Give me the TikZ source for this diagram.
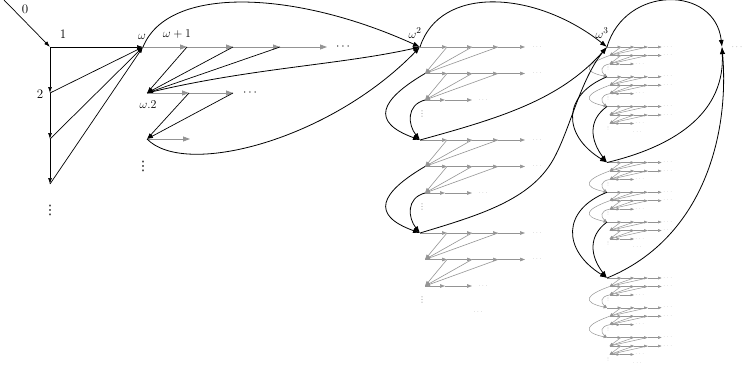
\documentclass[tikz,border=0pt]{standalone}
\usepackage{fontspec}
\usetikzlibrary{arrows.meta}
\newfontfamily\dejavu{DejaVu Sans}
\definecolor{gcol}{gray}{0.58}
\newcommand\gtipl{7pt}
\newcommand\gtipw{5pt}
\newcommand\glinew{0.8pt}
\newcommand\gdotfont{\fontsize{6}{7}\selectfont}
\newcommand\gvdfont{\fontsize{6}{7}\selectfont}
\newcommand\myvdots{{\dejavu ⋮}}
\tikzset{
  blk/.style={draw=black, line width=0.7pt, -{Latex[length=6pt,width=4pt]}},
  blkc/.style={draw=black, line width=0.8pt, -{Latex[length=7pt,width=5pt]}},
  gseg/.style={draw=gcol, line width=\glinew, -{Triangle[length=\gtipl,width=\gtipw]}},
  gdot/.style={text=gcol, font=\gdotfont, inner sep=0pt},
  gvd/.style={text=gcol, font=\gvdfont, inner sep=0pt},
  lbl/.style={font=\fontsize{13}{15}\selectfont, inner sep=0pt},
  vdl/.style={font=\fontsize{13}{15}\selectfont, inner sep=0pt},
  bulge/.style={blkc},
}
\newcommand\blockB[2]{%
  \coordinate (#1-p0) at (0,{#2});
  \coordinate (#1-p1) at (27,{#2});
  \coordinate (#1-p2) at (52,{#2});
  \coordinate (#1-p3) at (78,{#2});
  \coordinate (#1-p4) at (105,{#2});
  \coordinate (#1-q0) at (5,{#2+26.5});
  \coordinate (#1-q1) at (27,{#2+26.5});
  \coordinate (#1-q2) at (52,{#2+26.5});
  \coordinate (#1-q3) at (78,{#2+26.5});
  \coordinate (#1-q4) at (105,{#2+26.5});
  \coordinate (#1-r0) at (5,{#2+53});
  \coordinate (#1-r1) at (25,{#2+53});
  \coordinate (#1-r2) at (52,{#2+53});
  \draw[gseg] (#1-p0) -- (#1-p1);
  \draw[gseg] (#1-p1) -- (#1-p2);
  \draw[gseg] (#1-p2) -- (#1-p3);
  \draw[gseg] (#1-p3) -- (#1-p4);
  \draw[gseg] (#1-q0) -- (#1-q1);
  \draw[gseg] (#1-q1) -- (#1-q2);
  \draw[gseg] (#1-q2) -- (#1-q3);
  \draw[gseg] (#1-q3) -- (#1-q4);
  \draw[gseg] (#1-r0) -- (#1-r1);
  \draw[gseg] (#1-r1) -- (#1-r2);
  \draw[gseg] (#1-p1) -- (#1-q0);
  \draw[gseg] (#1-p2) -- (#1-q0);
  \draw[gseg] (#1-p3) -- (#1-q0);
  \draw[gseg] (#1-q1) -- (#1-r0);
  \draw[gseg] (#1-q2) -- (#1-r0);
  \draw[gseg] (#1-q3) -- (#1-r0);
  \node[gdot] (#1-pd) at (117,{#2}) {$\cdots$};
  \node[gdot] (#1-qd) at (117,{#2+26.5}) {$\cdots$};
  \node[gdot] (#1-rd) at (63,{#2+53}) {$\cdots$};
  \node[gvd] (#1-vd) at (2,{#2+67}) {\myvdots};
}
\newcommand\sectionB[1]{%
  \blockB{#1a}{0}
  \blockB{#1b}{93}
  \blockB{#1c}{186}
  \draw[bulge] (#1a-q0) .. controls (-40,53) and (-50,75) .. (#1b-p0);
  \draw[bulge] (#1a-r0) .. controls (-14,58) and (-12,78) .. (#1b-p0);
  \draw[bulge] (#1b-q0) .. controls (-40,146) and (-50,168) .. (#1c-p0);
  \draw[bulge] (#1b-r0) .. controls (-14,151) and (-12,171) .. (#1c-p0);
  \node[gdot] (#1-end) at (58,265) {$\cdots$};
}
\begin{document}
\begin{tikzpicture}[x=1pt, y=-1pt]
\useasboundingbox (0,0) rectangle (747,369);

% ---------- level 0 ----------
\coordinate (z0) at (4,0);
\coordinate (n1) at (50,47);
\coordinate (n2) at (50,93);
\coordinate (n3) at (50,139);
\coordinate (n4) at (50,184);
% ---------- omega section ----------
\coordinate (w) at (143,47);
\coordinate (wa1) at (187,47);
\coordinate (wa2) at (233,47);
\coordinate (wa3) at (280,47);
\coordinate (wa4) at (327,47);
\coordinate (w2) at (147,93);
\coordinate (w2a1) at (189,93);
\coordinate (w2a2) at (233,93);
\coordinate (w3) at (147,139);
\coordinate (w3a1) at (190,139);

\draw[gseg] (w) -- (wa1);
\draw[gseg] (wa1) -- (wa2);
\draw[gseg] (wa2) -- (wa3);
\draw[gseg] (wa3) -- (wa4);
\draw[gseg] (w2) -- (w2a1);
\draw[gseg] (w2a1) -- (w2a2);
\draw[gseg] (w3) -- (w3a1);

\draw[blk] (z0) -- (n1);
\draw[blk] (n1) -- (w);
\draw[blk] (n1) -- (n2);
\draw[blk] (n2) -- (n3);
\draw[blk] (n3) -- (n4);
\draw[blk] (n2) -- (w);
\draw[blk] (n3) -- (w);
\draw[blk] (n4) -- (w);
\draw[blk] (wa1) -- (w2);
\draw[blk] (wa2) -- (w2);
\draw[blk] (wa3) -- (w2);
\draw[blk] (w2a1) -- (w3);
\draw[blk] (w2a2) -- (w3);

\node[lbl] (l0) at (25,9) {0};
\node[lbl] (l1) at (63,34) {1};
\node[lbl] (l2) at (40,94) {2};
\node[vdl] (vd0) at (50,210) {\myvdots};
\node[lbl] (lw) at (142,37) {$\omega$};
\node[lbl] (lw1) at (177,34) {$\omega+1$};
\node[lbl] (lw2) at (148,105) {$\omega.2$};
\node[lbl] (dw1) at (343,47) {$\cdots$};
\node[lbl] (dw2) at (250,93) {$\cdots$};
\node[vdl] (vdw) at (143,166) {\myvdots};

% ---------- omega^2 section ----------
\renewcommand\gtipl{5pt}
\renewcommand\gtipw{3.6pt}
\renewcommand\glinew{0.6pt}
\renewcommand\gdotfont{\fontsize{6}{7}\selectfont}
\renewcommand\gvdfont{\fontsize{8}{9}\selectfont}
\begin{scope}[shift={(420,47)}]
  \sectionB{s2}
\end{scope}
\node[lbl] (lW2) at (415,33) {$\omega^2$};

% ---------- omega^3 section ----------
\renewcommand\gtipl{3.4pt}
\renewcommand\gtipw{2.6pt}
\renewcommand\glinew{0.5pt}
\renewcommand\gdotfont{\fontsize{3.5}{4}\selectfont}
\renewcommand\gvdfont{\fontsize{4}{5}\selectfont}
\tikzset{bulge/.style={gseg}}
\foreach \k/\yy in {1/47,2/162.5,3/278}{
  \begin{scope}[shift={(607,\yy)}, xscale=0.52, yscale=0.32]
    \sectionB{t\k}
  \end{scope}
}
\node[lbl] (lW3) at (602,33) {$\omega^3$};

\coordinate (w4) at (722,47);
\node[text=gcol, font=\fontsize{9}{10}\selectfont, inner sep=0pt] (dw4) at (737,47) {$\cdots$};

% ---------- black curves ----------
\draw[blkc] (w) .. controls (168,-15) and (295,-10) .. (s2a-p0);
\draw[blkc] (w2) .. controls (250,68) and (340,65) .. (s2a-p0);
\draw[blkc] (w3) .. controls (185,178) and (330,140) .. (s2a-p0);

\coordinate (s2via) at (553,160);
\draw[blkc] (s2a-p0) .. controls (440,-15) and (535,-10) .. (t1a-p0);
\draw[blkc] (s2b-p0) .. controls (500,118) and (560,100) .. (t1a-p0);
\draw[blkc] (s2c-p0) .. controls (480,215) and (530,200) .. (s2via) .. controls (570,130) and (580,80) .. (t1a-p0);

\draw[blkc] (t1b-p0) .. controls (562,95) and (562,135) .. (t2a-p0);
\draw[blkc] (t1c-p0) .. controls (588,120) and (590,140) .. (t2a-p0);
\draw[blkc] (t2b-p0) .. controls (562,210) and (562,250) .. (t3a-p0);
\draw[blkc] (t2c-p0) .. controls (588,236) and (590,256) .. (t3a-p0);

\draw[blkc] (t1a-p0) .. controls (625,-15) and (715,-15) .. (w4);
\draw[blkc] (t2a-p0) .. controls (680,145) and (725,110) .. (w4);
\draw[blkc] (t3a-p0) .. controls (700,240) and (730,140) .. (w4);
\end{tikzpicture}
\end{document}
